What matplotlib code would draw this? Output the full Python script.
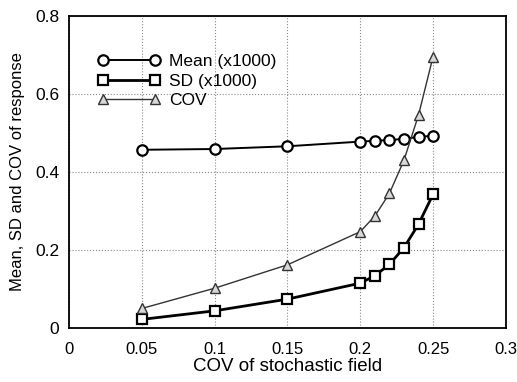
import matplotlib.pyplot as plt

plt.rcParams['font.family'] = ['Liberation Sans', 'DejaVu Sans']

cov_field = [0.05, 0.10, 0.15, 0.20, 0.21, 0.22, 0.23, 0.24, 0.25]
mean_resp = [0.457, 0.459, 0.466, 0.478, 0.480, 0.482, 0.485, 0.490, 0.493]
sd_resp = [0.022, 0.044, 0.074, 0.115, 0.134, 0.163, 0.206, 0.266, 0.343]
cov_resp = [0.050, 0.102, 0.162, 0.247, 0.287, 0.345, 0.430, 0.546, 0.696]

fig = plt.figure(figsize=(5.17, 3.82), dpi=100)
ax = fig.add_axes([0.1335, 0.1414, 0.845, 0.8166])

ax.plot(cov_field, mean_resp, color='black', lw=1.4, marker='o', ms=7.5,
        mfc='white', mec='black', mew=1.6, label='Mean (x1000)')
ax.plot(cov_field, sd_resp, color='black', lw=2.0, marker='s', ms=6.5,
        mfc='white', mec='black', mew=1.6, label='SD (x1000)')
ax.plot(cov_field, cov_resp, color='#333333', lw=1.0, marker='^', ms=7.5,
        mfc='#d8d8d8', mec='#333333', mew=1.0, label='COV')

ax.set_xlim(0, 0.3)
ax.set_ylim(0, 0.8)
ax.set_xticks([0, 0.05, 0.1, 0.15, 0.2, 0.25, 0.3])
ax.set_xticklabels(['0', '0.05', '0.1', '0.15', '0.2', '0.25', '0.3'])
ax.set_yticks([0, 0.2, 0.4, 0.6, 0.8])
ax.set_yticklabels(['0', '0.2', '0.4', '0.6', '0.8'])
ax.tick_params(axis='x', length=0, labelsize=12, pad=10)
ax.tick_params(axis='y', length=0, labelsize=12.5, pad=7)
ax.grid(True, linestyle=':', color='#888888', lw=0.8)
for s in ax.spines.values():
    s.set_linewidth(1.3)

ax.set_xlabel('COV of stochastic field', fontsize=13.5, labelpad=1)
ax.set_ylabel('Mean, SD and COV of response', fontsize=12, labelpad=7)

ax.legend(loc='upper left', bbox_to_anchor=(0.05, 0.9), frameon=False,
          numpoints=2, fontsize=12.5, handlelength=3.6, handletextpad=0.5,
          labelspacing=0.25, borderaxespad=0)

plt.savefig('out.png', dpi=100)
